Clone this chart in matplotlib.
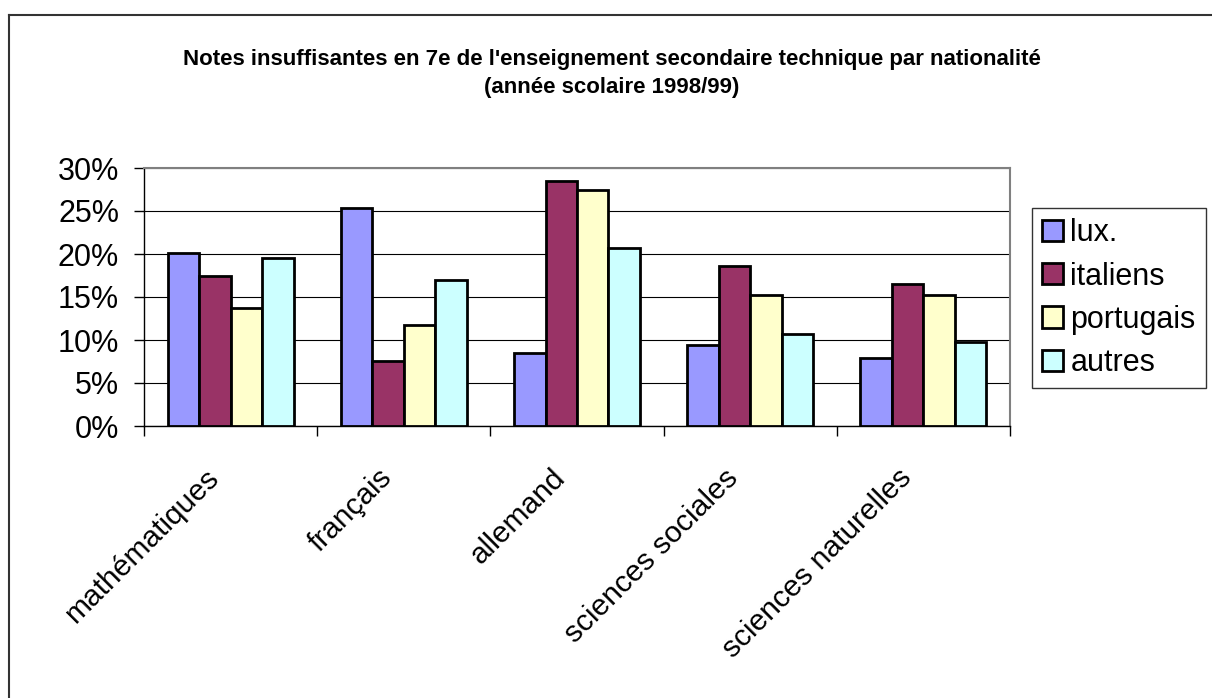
import matplotlib
matplotlib.use("Agg")
import matplotlib.pyplot as plt
import matplotlib.transforms as mtransforms
from matplotlib.lines import Line2D
from matplotlib.ticker import FuncFormatter, FixedLocator
import numpy as np

# Data: share of insufficient marks (%) per subject and nationality
subjects = ["mathématiques", "français", "allemand", "sciences sociales", "sciences naturelles"]
nationalities = ["lux.", "italiens", "portugais", "autres"]
lux = [20.1, 25.3, 8.5, 9.4, 7.9]
italiens = [17.5, 7.6, 28.5, 18.6, 16.5]
portugais = [13.7, 11.8, 27.5, 15.2, 15.2]
autres = [19.5, 17.0, 20.7, 10.7, 9.8]
y_ticks = [0, 5, 10, 15, 20, 25, 30]

series = [lux, italiens, portugais, autres]
colors = ["#9999FF", "#993366", "#FFFFCC", "#CCFFFF"]

plt.rcParams["font.family"] = ["Liberation Sans", "DejaVu Sans"]

W, H = 1212, 698
fig = plt.figure(figsize=(W / 100, H / 100), dpi=100)
fig.patch.set_facecolor("white")

# plot area in pixel coordinates
L, R, T, B = 144, 1010, 168, 426
ax = fig.add_axes([L / W, 1 - B / H, (R - L) / W, (B - T) / H])

n_cat = len(subjects)
bar_w = 1 / 5.5
centers = np.arange(n_cat) + 0.5
for j, (vals, col, name) in enumerate(zip(series, colors, nationalities)):
    ax.bar(centers + (j - 1.5) * bar_w, vals, width=bar_w, color=col,
           edgecolor="black", linewidth=2.0, label=name, zorder=3)

ax.set_xlim(0, n_cat)
ax.set_ylim(0, 30)

# gridlines and spines
ax.set_yticks(y_ticks)
ax.yaxis.set_major_formatter(FuncFormatter(lambda v, p: f"{int(v)}%"))
ax.grid(axis="y", color="black", linewidth=0.8, zorder=0)
ax.spines["top"].set_color("#808080")
ax.spines["right"].set_color("#808080")
ax.spines["top"].set_linewidth(1.5)
ax.spines["right"].set_linewidth(1.5)
ax.spines["left"].set_color("black")
ax.spines["bottom"].set_color("black")
ax.spines["left"].set_linewidth(1.0)
ax.spines["bottom"].set_linewidth(1.0)

ax.tick_params(axis="y", direction="out", length=7, width=1, pad=11,
               labelsize=22, colors="black")

# category boundaries as ticks, names centred under each group
ax.xaxis.set_major_locator(FixedLocator(np.arange(n_cat + 1)))
ax.xaxis.set_minor_locator(FixedLocator(centers))
ax.set_xticklabels([""] * (n_cat + 1))
ax.set_xticklabels(subjects, minor=True)
ax.tick_params(axis="x", which="major", direction="out", length=7, width=1)
ax.tick_params(axis="x", which="minor", length=0, pad=27, labelsize=21.5)

shift = mtransforms.ScaledTranslation(-6 / 100, 0, fig.dpi_scale_trans)
for lab in ax.get_xticklabels(minor=True):
    lab.set_rotation(45)
    lab.set_ha("right")
    lab.set_va("top")
    lab.set_transform(lab.get_transform() + shift)

# title
fig.text(612 / W, 1 - 59 / H,
         "Notes insuffisantes en 7e de l'enseignement secondaire technique par nationalité",
         ha="center", va="center", fontsize=16, fontweight="bold")
fig.text(612 / W, 1 - 87 / H, "(année scolaire 1998/99)",
         ha="center", va="center", fontsize=16, fontweight="bold")

# legend
leg = ax.legend(loc="upper left", bbox_to_anchor=(1032 / W, 1 - 208 / H),
                bbox_transform=fig.transFigure, borderaxespad=0,
                fontsize=22, handlelength=0.69, handleheight=0.69,
                handletextpad=0.23, labelspacing=0.43, borderpad=0.34,
                fancybox=False, shadow=False, frameon=True)
leg.get_frame().set_edgecolor("black")
leg.get_frame().set_linewidth(1.0)
for h in leg.legend_handles:
    h.set_linewidth(2.0)

# chart frame (top and left edges)
fig.add_artist(Line2D([8.5 / W, 1.0], [1 - 14.5 / H, 1 - 14.5 / H],
                      transform=fig.transFigure, color="#333333", linewidth=1.5))
fig.add_artist(Line2D([8.5 / W, 8.5 / W], [0.0, 1 - 14.5 / H],
                      transform=fig.transFigure, color="#333333", linewidth=1.5))

fig.savefig("out.png", dpi=100, facecolor="white")
